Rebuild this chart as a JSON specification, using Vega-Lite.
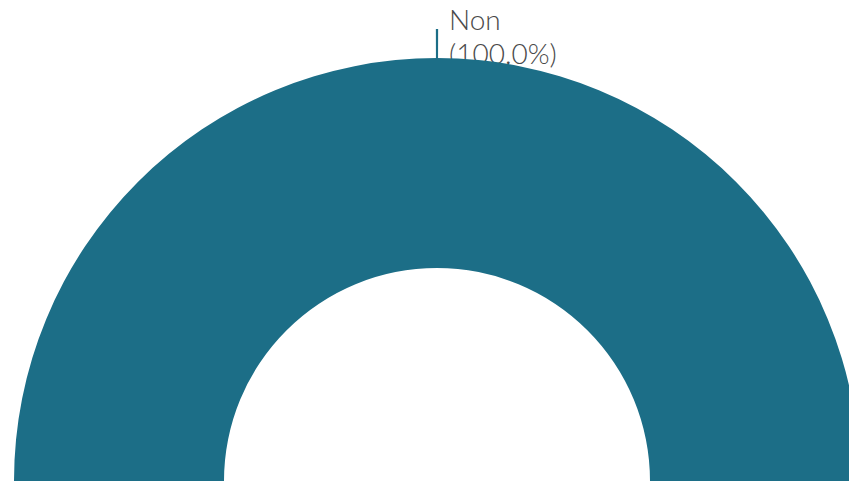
{
  "$schema": "https://vega.github.io/schema/vega-lite/v6.json",
  "width": 874,
  "height": 962,
  "padding": 0,
  "autosize": "none",
  "background": "white",
  "data": {"values": [{"category": "Non", "share": 100.0}]},
  "layer": [
    {
      "mark": {"type": "text", "radius": 451, "align": "left", "baseline": "alphabetic", "dx": 12, "font": "Lato", "fontSize": 28, "fontWeight": 300, "color": "#4a4a4a", "lineHeight": 34, "lineBreak": "\n"},
      "encoding": {
        "theta": {"value": 0},
        "text": {"value": ["Non", "(100.0%)"]}
      }
    },
    {
      "mark": {"type": "arc", "radius": 423, "radius2": 213, "color": "#1c6e87"},
      "encoding": {
        "theta": {"field": "share", "type": "quantitative", "stack": true, "scale": {"domain": [0, 100], "range": [-1.5708, 1.5708]}}
      }
    },
    {
      "mark": {"type": "arc", "radius": 452, "radius2": 423, "color": "#1c6e87"},
      "encoding": {
        "theta": {"value": -0.0025},
        "theta2": {"value": 0.0025}
      }
    }
  ]
}
